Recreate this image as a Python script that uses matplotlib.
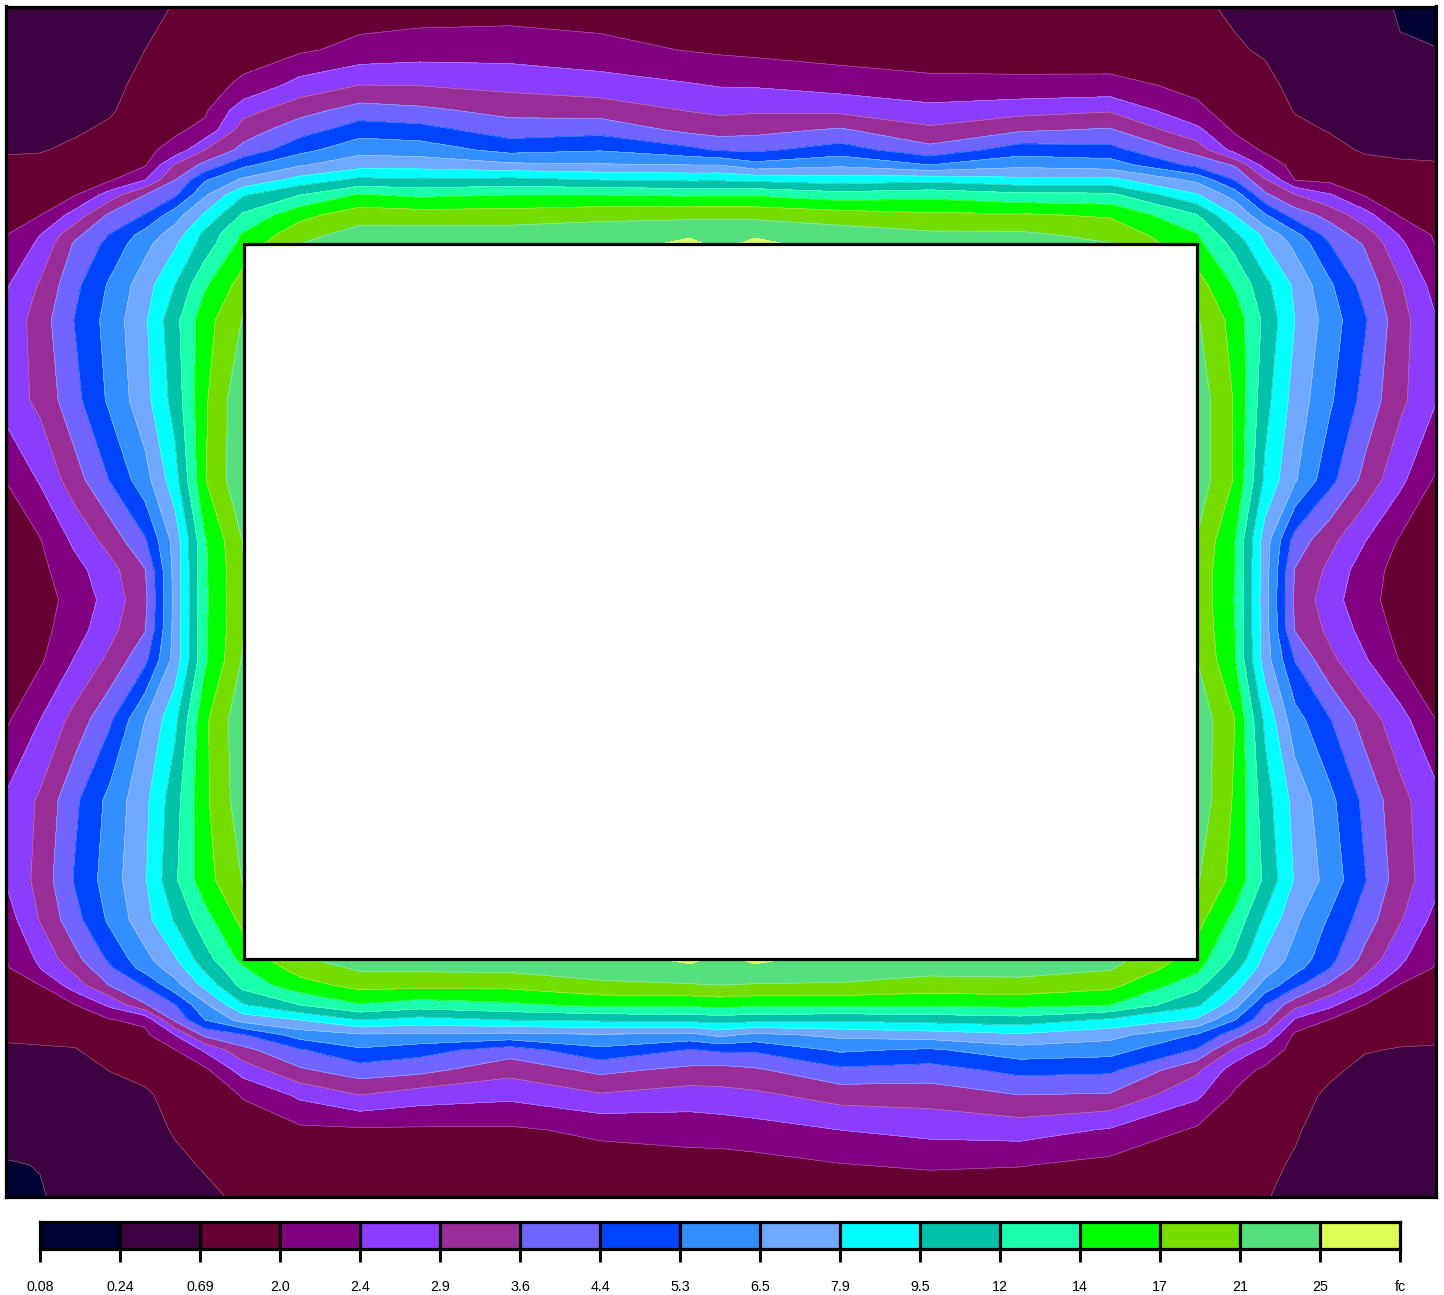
import matplotlib
matplotlib.use("Agg")
import numpy as np
import matplotlib.pyplot as plt
from matplotlib.patches import Rectangle
from matplotlib.colors import ListedColormap

plt.rcParams['font.family'] = ['Liberation Sans', 'DejaVu Sans']

scale_labels = ['0.08', '0.24', '0.69', '2.0', '2.4', '2.9', '3.6', '4.4', '5.3',
                '6.5', '7.9', '9.5', '12', '14', '17', '21', '25', 'fc']
band_colors = ['#000033', '#3d0040', '#660033', '#800080', '#8a3dff', '#992e99',
               '#7066ff', '#0044ff', '#338fff', '#70a8ff', '#00ffff', '#00c2aa',
               '#19ffab', '#00ff00', '#75de00', '#55e07d', '#ddff55']

# measuring stations across the site
xs = [5, 40, 75, 110, 145, 175, 205, 243, 300, 360, 420, 510, 600, 690, 720, 755,
      840, 930, 1020, 1110, 1197, 1235, 1265, 1295, 1330, 1365, 1400, 1436]
ys_top = [6, 50, 85, 110, 130, 150, 165, 180, 195, 215, 235, 244]
ys_mid = [285, 320, 400, 480, 540, 570, 600, 630, 660, 720, 800, 880, 920]
ys_bottom = [959, 968, 985, 1005, 1020, 1035, 1050, 1070, 1095, 1130, 1165, 1198]

# readings as a position on the legend scale: 0 = 0.08 fc, 1 = 0.24 fc, 2 = 0.69 fc ...
top_rows = [
    [1.3, 1.3, 1.4, 1.5, 1.7, 2.05, 2.25, 2.3, 2.3, 2.45, 2.5, 2.55, 2.5, 2.3, 2.3, 2.25, 2.2, 2.15, 2.15, 2.1, 2.15, 1.85, 1.5, 1.3, 1.3, 1.25, .93, .6],
    [1.4, 1.45, 1.5, 1.6, 2.0, 2.3, 2.5, 2.65, 2.85, 3.3, 3.5, 3.55, 3.3, 2.95, 2.85, 2.75, 2.55, 2.5, 2.5, 2.5, 2.5, 2.1, 1.9, 1.55, 1.4, 1.35, 1.05, 1.03],
    [1.5, 1.6, 1.65, 1.75, 2.27, 2.6, 2.7, 3.15, 4.37, 5.0, 4.96, 4.71, 4.44, 4.07, 3.93, 3.9, 3.58, 3.25, 3.22, 3.23, 2.8, 2.4, 2.25, 1.75, 1.55, 1.5, 1.35, 1.3],
    [1.6, 1.7, 1.75, 1.9, 2.45, 2.7, 2.85, 4.6, 5.62, 6.39, 6.19, 5.68, 5.53, 4.93, 4.79, 4.85, 4.75, 4.3, 4.61, 4.88, 3.15, 2.65, 2.45, 1.95, 1.7, 1.65, 1.45, 1.45],
    [1.75, 1.8, 1.9, 2.15, 2.6, 2.85, 3.25, 5.5, 6.57, 7.53, 7.37, 6.5, 6.65, 5.75, 5.56, 5.7, 6.13, 5.2, 5.87, 6.12, 4.25, 2.85, 2.65, 2.2, 1.95, 1.8, 1.6, 1.6],
    [1.95, 1.95, 2.15, 2.5, 2.8, 3.3, 5.0, 6.3, 7.69, 8.67, 8.53, 7.67, 7.93, 7.25, 6.9, 6.81, 7.46, 6.33, 7.5, 7.33, 5.6, 3.6, 2.85, 2.5, 2.25, 1.9, 1.85, 1.85],
    [2.1, 2.2, 2.4, 2.7, 2.9, 5.1, 6.3, 7.75, 8.9, 9.6, 9.6, 9.22, 9.09, 9.0, 9.0, 8.33, 8.8, 8.0, 8.73, 8.5, 6.7, 5.9, 3.6, 2.7, 2.45, 2.25, 2.1, 2.05],
    [2.25, 2.4, 2.65, 2.9, 4.0, 6.0, 7.9, 9.2, 10.38, 11.25, 11.1, 11.29, 11.0, 10.86, 10.88, 10.78, 10.5, 10.71, 10.29, 10.29, 8.75, 6.95, 5.15, 2.98, 2.75, 2.55, 2.3, 2.2],
    [2.45, 2.6, 2.95, 4.5, 6.0, 6.83, 8.87, 10.9, 12.0, 13.1, 12.8, 13.0, 13.0, 12.88, 12.88, 12.88, 12.43, 12.67, 12.3, 12.25, 10.1, 8.55, 6.2, 5.05, 4.1, 2.9, 2.55, 2.35],
    [2.7, 2.97, 4.4, 6.2, 7.05, 8.55, 10.15, 12.15, 13.67, 14.58, 14.47, 14.47, 14.73, 14.77, 14.77, 14.77, 14.47, 14.2, 14.12, 13.87, 12.05, 9.95, 8.1, 6.55, 5.65, 4.4, 2.9, 2.6],
    [2.95, 4.0, 5.75, 7.05, 8.4, 9.5, 11.3, 13.1, 14.68, 15.4, 15.5, 15.5, 15.55, 15.75, 15.75, 15.75, 15.5, 15.2, 15.2, 14.72, 13.05, 11.2, 9.75, 8.3, 6.6, 5.5, 3.95, 2.85],
    [3.05, 4.2, 6.15, 7.3, 8.7, 9.85, 11.45, 13.35, 15.0, 15.7, 15.75, 15.8, 15.1, 16.45, 15.5, 16.45, 15.2, 15.5, 15.5, 15.05, 13.3, 11.65, 10.0, 8.75, 7.0, 5.9, 4.2, 2.95],
]
left_strip = [
    [3.85, 5.1, 6.75, 8.15, 9.55, 11.0, 12.85, 14.45],
    [4.2, 5.5, 7.05, 8.4, 9.85, 11.7, 13.6, 15.05],
    [4.4, 5.25, 6.7, 8.2, 9.65, 11.4, 13.85, 15.8],
    [3.0, 4.1, 5.57, 7.05, 8.6, 10.6, 13.95, 15.8],
    [2.5, 2.95, 4.23, 5.4, 6.9, 9.4, 12.9, 15.05],
    [2.3, 2.75, 3.65, 4.65, 5.95, 9.35, 12.85, 14.9],
    [2.2, 2.6, 3.35, 4.4, 5.75, 9.33, 12.82, 14.95],
    [2.25, 2.7, 3.55, 4.7, 5.95, 9.35, 12.85, 14.9],
    [2.4, 2.85, 4.07, 5.25, 6.75, 9.4, 12.83, 15.1],
    [2.8, 4.0, 5.37, 6.85, 9.0, 10.75, 13.8, 15.75],
    [4.1, 5.15, 6.8, 8.3, 9.75, 11.6, 13.8, 15.6],
    [4.02, 5.35, 7.1, 8.5, 9.9, 11.85, 13.6, 15.05],
    [3.45, 5.05, 6.65, 8.2, 9.65, 11.1, 12.6, 14.3],
]
right_strip = [
    [14.45, 12.85, 11.3, 9.8, 8.15, 6.6, 5.1, 3.6],
    [15.1, 13.6, 11.75, 10.0, 8.5, 7.1, 5.4, 4.05],
    [15.6, 13.9, 11.35, 9.6, 8.15, 6.65, 5.25, 4.05],
    [15.6, 13.9, 10.8, 9.1, 7.3, 5.7, 4.25, 2.85],
    [14.95, 13.0, 9.5, 6.6, 5.3, 4.05, 2.9, 2.5],
    [14.7, 13.0, 9.45, 5.95, 4.75, 3.45, 2.65, 2.3],
    [14.7, 12.95, 9.4, 5.8, 4.4, 3.35, 2.55, 2.2],
    [14.8, 13.0, 9.45, 5.95, 4.75, 3.65, 2.7, 2.3],
    [15.0, 13.05, 9.5, 6.95, 5.25, 4.1, 2.95, 2.5],
    [15.7, 14.0, 10.8, 8.4, 7.05, 5.55, 4.4, 3.0],
    [15.7, 13.85, 11.45, 9.65, 8.25, 6.75, 5.3, 4.3],
    [15.1, 13.65, 11.8, 9.9, 8.6, 7.05, 5.5, 4.3],
    [14.35, 12.65, 10.8, 9.2, 7.85, 6.5, 5.1, 3.65],
]
bottom_rows = [
    [2.95, 4.2, 5.7, 7.2, 8.7, 9.9, 11.6, 13.3, 14.9, 15.4, 15.5, 15.55, 15.1, 16.45, 15.5, 16.45, 15.2, 15.6, 15.6, 15.45, 13.5, 11.75, 9.75, 8.65, 7.3, 5.7, 4.2, 3.05],
    [2.85, 4.0, 5.3, 6.85, 8.4, 9.5, 11.2, 12.9, 14.45, 15.15, 15.2, 15.25, 15.5, 15.6, 15.4, 15.6, 15.55, 15.35, 15.35, 15.1, 13.25, 11.3, 9.5, 8.35, 7.0, 5.3, 3.95, 2.9],
    [2.65, 3.0, 4.55, 6.05, 7.1, 8.65, 10.3, 12.35, 13.6, 14.35, 14.3, 14.3, 14.8, 14.95, 15.0, 14.95, 14.9, 14.6, 14.7, 14.3, 12.35, 10.45, 8.65, 7.3, 5.8, 4.55, 2.95, 2.65],
    [2.45, 2.8, 2.97, 4.2, 5.9, 6.95, 8.8, 10.9, 12.0, 12.9, 12.5, 12.8, 13.2, 13.2, 13.35, 13.2, 13.2, 13.15, 13.25, 13.0, 11.15, 9.35, 7.0, 5.35, 4.25, 2.97, 2.6, 2.45],
    [2.25, 2.6, 2.65, 2.95, 3.2, 6.2, 8.0, 9.4, 10.0, 11.0, 10.6, 11.0, 11.15, 11.3, 11.4, 11.3, 11.15, 11.35, 11.55, 10.8, 9.85, 8.0, 6.3, 3.85, 2.95, 2.75, 2.4, 2.3],
    [2.1, 2.2, 2.25, 2.7, 2.8, 4.0, 6.25, 6.9, 8.45, 8.85, 8.85, 8.7, 8.9, 8.67, 9.25, 8.7, 9.25, 9.5, 9.85, 9.35, 7.9, 6.4, 4.95, 2.8, 2.8, 2.4, 2.2, 2.1],
    [1.9, 1.9, 1.95, 2.4, 2.6, 2.97, 4.15, 5.7, 6.9, 7.85, 7.4, 6.5, 7.75, 6.95, 7.15, 7.15, 8.15, 7.85, 8.6, 8.4, 6.9, 4.8, 3.7, 2.6, 2.55, 2.05, 1.95, 1.95],
    [1.7, 1.7, 1.7, 2.02, 2.3, 2.7, 2.8, 4.45, 5.85, 6.55, 6.3, 5.35, 6.25, 5.75, 5.65, 5.85, 6.8, 6.6, 7.3, 7.2, 5.2, 3.45, 2.8, 2.45, 2.15, 1.8, 1.75, 1.75],
    [1.45, 1.5, 1.55, 1.7, 1.85, 2.35, 2.55, 3.05, 4.2, 5.0, 4.5, 4.25, 4.9, 4.55, 4.67, 4.8, 5.4, 5.45, 6.0, 5.9, 4.2, 2.85, 2.5, 2.3, 1.85, 1.6, 1.55, 1.55],
    [1.25, 1.3, 1.4, 1.5, 1.6, 2.1, 2.3, 2.65, 2.8, 2.85, 2.85, 2.85, 3.2, 3.4, 3.45, 3.6, 4.0, 4.3, 4.45, 3.9, 2.85, 2.6, 2.25, 2.1, 1.6, 1.45, 1.4, 1.4],
    [.95, 1.02, 1.3, 1.35, 1.45, 1.75, 2.1, 2.4, 2.55, 2.55, 2.55, 2.55, 2.55, 2.6, 2.6, 2.65, 2.95, 3.15, 3.05, 2.7, 2.5, 2.4, 2.2, 1.9, 1.5, 1.35, 1.35, 1.35],
    [.6, .95, 1.2, 1.25, 1.35, 1.55, 1.75, 2.2, 2.3, 2.35, 2.35, 2.35, 2.3, 2.25, 2.25, 2.2, 2.2, 2.2, 2.2, 2.2, 2.3, 2.25, 2.05, 1.75, 1.45, 1.3, 1.3, 1.3],
]
# nothing was measured under the block, it gets covered anyway
under_block = [15.5] * 12

W, H = 1444, 1295
fig = plt.figure(figsize=(W / 100, H / 100), dpi=100)


def px_axes(x0, y0, x1, y1):
    return fig.add_axes([x0 / W, 1 - y1 / H, (x1 - x0) / W, (y1 - y0) / H])


mid_rows = [l + under_block + r for l, r in zip(left_strip, right_strip)]
z = np.array(top_rows + mid_rows + bottom_rows)
ys = ys_top + ys_mid + ys_bottom
levels = np.arange(len(band_colors) + 1)

ax = px_axes(5.5, 6.5, 1435.5, 1197)
ax.contourf(xs, ys, z, levels=levels, colors=band_colors)
ax.contour(xs, ys, z, levels=levels, colors='white', linewidths=0.4, alpha=0.45)
ax.add_patch(Rectangle((244, 244.5), 953, 714.5, facecolor='white', edgecolor='black',
                       linewidth=2.3, zorder=5))
ax.set_xlim(5.5, 1435.5)
ax.set_ylim(1197, 6.5)
ax.set_xticks([])
ax.set_yticks([])
for s in ax.spines.values():
    s.set_linewidth(2.3)

# legend strip
cax = px_axes(40, 1221.5, 1400, 1248.5)
cells = np.arange(len(band_colors)).reshape(1, -1)
cax.pcolormesh(np.arange(len(band_colors) + 1), [0, 1], cells,
               cmap=ListedColormap(band_colors), vmin=-0.5, vmax=len(band_colors) - 0.5)
for i in range(1, len(band_colors)):
    cax.axvline(i, color='black', linewidth=2.3)
cax.set_yticks([])
cax.set_xticks(range(len(scale_labels)))
cax.set_xticklabels(scale_labels, fontsize=10.3)
cax.tick_params(axis='x', length=9.5, width=2.2, pad=13)
for s in cax.spines.values():
    s.set_linewidth(2.3)

fig.savefig('out.png', dpi=100)
